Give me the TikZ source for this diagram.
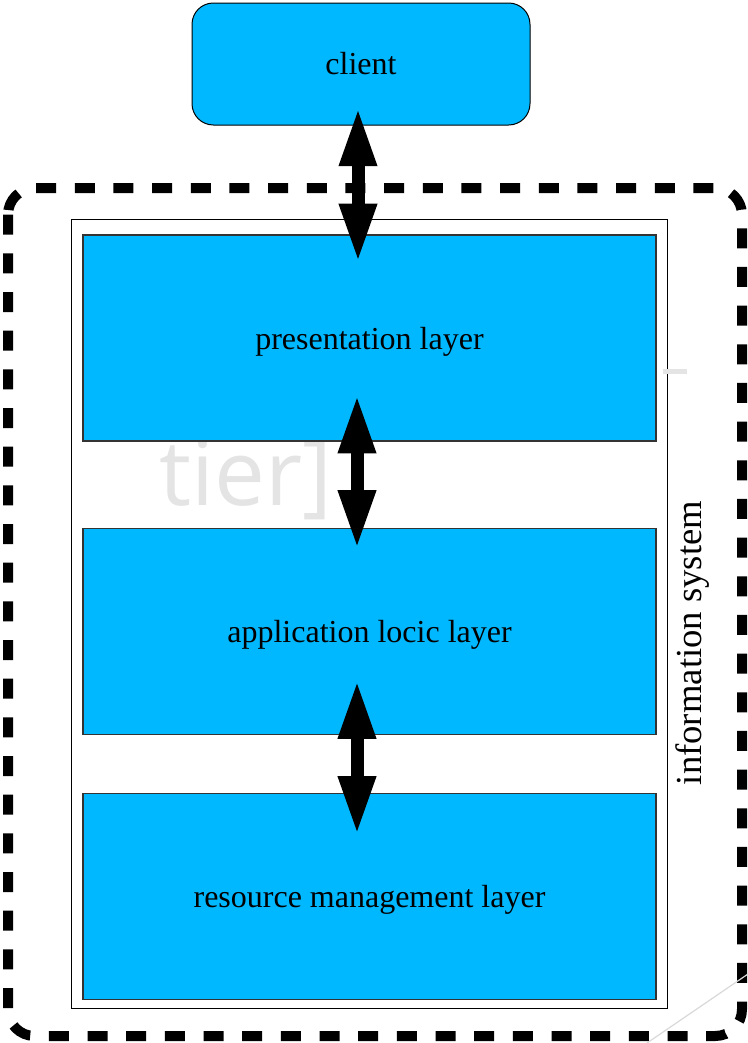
\documentclass[tikz,border=0pt]{standalone}
\usepackage{fontspec}
\setmainfont{Liberation Serif}
\newfontfamily\marksans{Open Sans}
\usetikzlibrary{arrows.meta}
\newdimen\pxu
\pxu=0.75pt
\definecolor{layerblue}{RGB}{0,184,255}
\definecolor{markgray}{RGB}{228,228,228}
\begin{document}
\begin{tikzpicture}[x=0.75pt, y=-0.75pt,
    layer/.style={draw=black!80, line width=0.9pt, fill=layerblue, minimum width=573\pxu, minimum height=206\pxu, inner sep=0pt, text depth=0pt, font=\fontsize{24}{28}\selectfont},
    biarrow/.style={line width=9.75pt, {Triangle[length=44pt,width=26pt]}-{Triangle[length=44pt,width=26pt]}}]

    \useasboundingbox[fill=white] (0,0) rectangle (748,1043);

    % Cornice tratteggiata (information system)
    \draw[line width=7.5pt, dash pattern=on 15pt off 14pt, rounded corners=20pt] (8,188) rectangle (742,1036);
    \draw[black, line width=0.75pt, fill=white] (71,219) rectangle (667,1008);
    \node[rotate=90, font=\fontsize{27.5}{30}\selectfont] (infosys) at (693,643) {information system};

    % Tracce grigie
    \node[markgray, font=\marksans\fontsize{68}{74}\selectfont, anchor=base west, inner sep=0pt] (mark) at (159,505) {tier]};
    \draw[markgray, line width=3.75pt] (663,371) -- (687,371);
    \draw[black!15, line width=0.9pt] (647,1043) -- (748,974);

    % Client e livelli
    \node[draw=black, line width=0.75pt, fill=layerblue, rounded corners=16pt, minimum width=338\pxu, minimum height=122\pxu, font=\fontsize{24}{28}\selectfont] (client) at (361,64) {\raisebox{-2\pxu}{client}};
    \node[layer] (pres) at (369.5,338) {presentation layer};
    \node[layer] (app) at (369.5,631.5) {application locic layer};
    \node[layer] (res) at (369.5,896.5) {resource management layer};

    % Frecce doppie
    \draw[biarrow] ([xshift=-3\pxu, yshift=18\pxu]client.south) -- ([xshift=-11.5\pxu, yshift=-28\pxu]pres.north);
    \draw[biarrow] ([xshift=-12.5\pxu, yshift=47\pxu]pres.south) -- ([xshift=-12.5\pxu, yshift=-21\pxu]app.north);
    \draw[biarrow] ([xshift=-12.5\pxu, yshift=55\pxu]app.south) -- ([xshift=-12.5\pxu, yshift=-42\pxu]res.north);

\end{tikzpicture}
\end{document}
